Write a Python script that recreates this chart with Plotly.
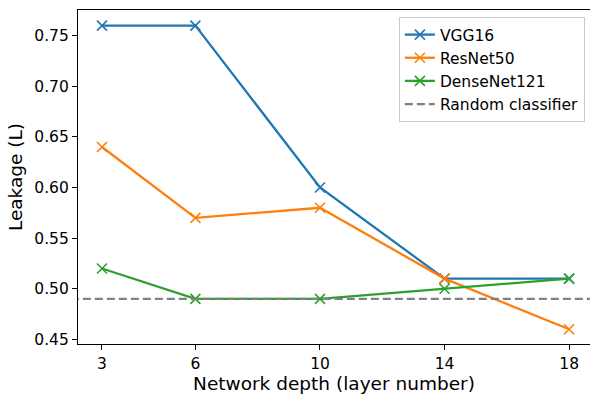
import plotly.graph_objects as go

depth = [3, 6, 10, 14, 18]
vgg16 = [0.76, 0.76, 0.60, 0.51, 0.51]
resnet50 = [0.64, 0.57, 0.58, 0.51, 0.46]
densenet121 = [0.52, 0.49, 0.49, 0.50, 0.51]
random_level = 0.49
y_ticks = [0.45, 0.50, 0.55, 0.60, 0.65, 0.70, 0.75]

series = [("VGG16", vgg16, "#1f77b4"),
          ("ResNet50", resnet50, "#ff7f0e"),
          ("DenseNet121", densenet121, "#2ca02c")]

fig = go.Figure()
for name, vals, col in series:
    fig.add_trace(go.Scatter(
        x=depth, y=vals, name=name, mode="lines+markers",
        line=dict(color=col, width=2.3),
        marker=dict(symbol="x-thin", size=10, line=dict(color=col, width=1.6), color=col),
    ))

fig.add_trace(go.Scatter(
    x=[2.0, 19.0], y=[random_level, random_level], name="Random classifier",
    mode="lines", line=dict(color="#808080", width=2.3, dash="8px,4px"),
))

font = "DejaVu Sans, Arial, sans-serif"
fig.update_layout(
    width=590, height=394,
    margin=dict(l=78, r=0, t=10, b=50),
    paper_bgcolor="white", plot_bgcolor="white",
    font=dict(family=font, size=15.5, color="black"),
    showlegend=True,
    legend=dict(x=0.990, y=0.979, xanchor="right", yanchor="top",
                bgcolor="rgba(255,255,255,0.8)", bordercolor="#cccccc", borderwidth=1,
                font=dict(size=15.5), tracegroupgap=0),
)
fig.update_xaxes(
    range=[2.23, 18.67], tickvals=depth, ticktext=[str(d) for d in depth],
    showgrid=False, zeroline=False, showline=True, linecolor="black", linewidth=1.2,
    mirror=True, ticks="outside", ticklen=5, tickcolor="black",
    title=dict(text="Network depth (layer number)", font=dict(size=18.5), standoff=5),
)
fig.update_yaxes(
    range=[0.4454, 0.7754], tickvals=y_ticks, tickformat=".2f",
    showgrid=False, zeroline=False, showline=True, linecolor="black", linewidth=1.2,
    mirror=False, ticks="outside", ticklen=5, tickcolor="black",
    title=dict(text="Leakage (L)", font=dict(size=18.5), standoff=6),
)
fig.write_html(
    "out.html",
    config={"displayModeBar": False},
    post_script="document.body.style.margin='0';document.body.style.overflow='hidden';",
)
